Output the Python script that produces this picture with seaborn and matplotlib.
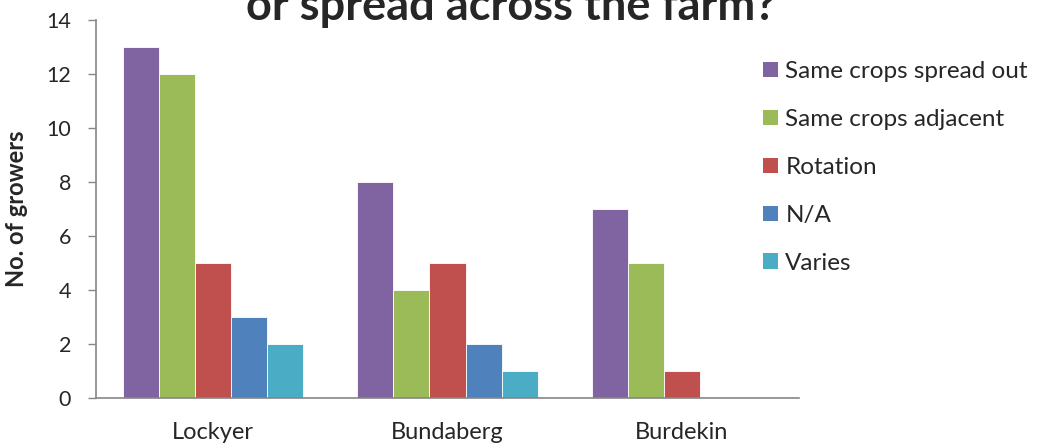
import matplotlib
matplotlib.use("Agg")
import matplotlib.pyplot as plt
import seaborn as sns
import pandas as pd

regions = ["Lockyer", "Bundaberg", "Burdekin"]
arrangements = ["Same crops spread out", "Same crops adjacent", "Rotation", "N/A", "Varies"]
spread_out = [13, 8, 7]
adjacent = [12, 4, 5]
rotation = [5, 5, 1]
not_applicable = [3, 2, 0]
varies = [2, 1, 0]

colors = ["#8064A2", "#9BBB59", "#C0504D", "#4F81BD", "#4BACC6"]

series = [spread_out, adjacent, rotation, not_applicable, varies]
rows = []
for name, vals in zip(arrangements, series):
    for reg, v in zip(regions, vals):
        rows.append({"Region": reg, "Arrangement": name, "Growers": v})
df = pd.DataFrame(rows)

sns.set_theme(style="white")
plt.rcParams["font.family"] = ["Lato", "DejaVu Sans"]

W, H = 1037, 445
fig = plt.figure(figsize=(W / 100, H / 100), dpi=100)
ax = fig.add_axes([96 / W, 1 - 398 / H, 703 / W, 378 / H])

sns.barplot(data=df, x="Region", y="Growers", hue="Arrangement",
            hue_order=arrangements, order=regions, palette=colors,
            saturation=1, width=0.77, edgecolor="white", linewidth=0.6,
            ax=ax, legend=False)

ax.set_ylim(0, 14)
ax.set_yticks(range(0, 15, 2))
ax.set_xlim(-0.5, 2.5)
ax.set_xlabel("")
ax.set_ylabel("No. of growers", fontsize=17, fontweight="bold")
ax.yaxis.set_label_coords(-0.097, 0.5)
ax.tick_params(axis="y", which="both", left=True, length=6, width=1,
               color="#868686", labelsize=15.5, pad=12)
ax.tick_params(axis="x", bottom=False, labelsize=17, pad=11)
for side in ["top", "right"]:
    ax.spines[side].set_visible(False)
for side in ["left", "bottom"]:
    ax.spines[side].set_color("#868686")
    ax.spines[side].set_linewidth(1.2)

handles = [plt.Rectangle((0, 0), 1, 1, facecolor=c, edgecolor="none") for c in colors]
fig.legend(handles, arrangements, loc="upper left",
           bbox_to_anchor=(763 / W, 1 - 61 / H), frameon=False,
           fontsize=17.5, handlelength=0.62, handleheight=0.62,
           handletextpad=0.3, labelspacing=1.11, borderpad=0, borderaxespad=0)

fig.text(511 / W, 1 - 20 / H, "or spread across the farm?", ha="center",
         va="baseline", fontsize=32.5, fontweight="bold")

fig.savefig("out.png", dpi=100)
